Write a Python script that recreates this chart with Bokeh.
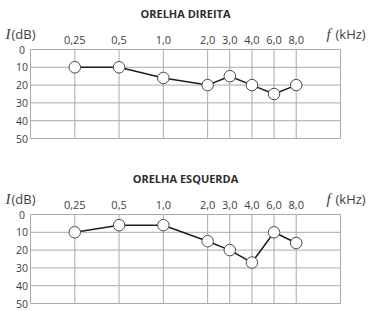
import math
from bokeh.plotting import figure
from bokeh.models import Range1d
from bokeh.core.properties import value
from bokeh.layouts import column
from bokeh.embed import file_html
from bokeh.resources import INLINE

# ---- data ----
freq_labels = ["0,25", "0,5", "1,0", "2,0", "3,0", "4,0", "6,0", "8,0"]
freqs_khz = [0.25, 0.5, 1.0, 2.0, 3.0, 4.0, 6.0, 8.0]
right_ear_db = [10, 10, 16, 20, 15, 20, 25, 20]
left_ear_db = [10, 6, 6, 15, 20, 27, 10, 16]
db_ticks = [0, 10, 20, 30, 40, 50]
db_labels = ["0", "10", "20", "30", "40", "50"]
titles = ["ORELHA DIREITA", "ORELHA ESQUERDA"]


def audiogram_x(f):
    # audiogram scale: octaves above 0.25 kHz, 3 and 6 kHz on half-octave marks
    return round(2 * math.log2(f / 0.25)) / 2


xs = [audiogram_x(f) for f in freqs_khz]
X_MIN, X_MAX = xs[0] - 1, xs[-1] + 1          # one octave of margin each side
DB_MIN, DB_MAX = db_ticks[0], db_ticks[-1]

# ---- layout (pixels) ----
W = 372
GRID_LEFT, GRID_RIGHT = 30, 340
GRID_H = 89
FONT = "Open Sans"
TXT = "#404040"
GRID = "#ababab"


def make(title, values, height, grid_top):
    ux = (X_MAX - X_MIN) / (GRID_RIGHT - GRID_LEFT)
    uy = (DB_MAX - DB_MIN) / GRID_H
    x_range = Range1d(X_MIN - GRID_LEFT * ux, X_MAX + (W - GRID_RIGHT) * ux)
    y_range = Range1d(DB_MAX + (height - grid_top - GRID_H) * uy, DB_MIN - grid_top * uy)
    p = figure(width=W, height=height, output_backend="svg", toolbar_location=None,
               x_range=x_range, y_range=y_range, x_axis_type=None, y_axis_type=None,
               min_border=0)
    p.grid.visible = False
    p.outline_line_color = None
    p.background_fill_color = "white"

    # grid (with frame border)
    vx = [X_MIN] + xs + [X_MAX]
    p.segment(x0=vx, y0=[DB_MIN] * len(vx), x1=vx, y1=[DB_MAX] * len(vx),
              line_color=GRID, line_width=1)
    p.segment(x0=[X_MIN] * len(db_ticks), y0=db_ticks, x1=[X_MAX] * len(db_ticks),
              y1=db_ticks, line_color=GRID, line_width=1)

    # tick labels
    p.text(x=xs, y=[DB_MIN] * len(xs), text=freq_labels, y_offset=-10,
           text_align="center", text_baseline="middle", text_font=value(FONT),
           text_font_size="11px", text_color=TXT)
    p.text(x=[X_MIN] * len(db_ticks), y=db_ticks, text=db_labels, x_offset=-8.5,
           text_align="center", text_baseline="middle", text_font=value(FONT),
           text_font_size="10.5px", text_color=TXT)

    # axis names
    p.text(x=[X_MIN], y=[DB_MIN], text=["I"], x_offset=-25, y_offset=-16,
           text_align="left", text_baseline="middle",
           text_font=value("Liberation Serif"), text_font_style="italic",
           text_font_size="15px", text_color=TXT)
    p.text(x=[X_MIN], y=[DB_MIN], text=["(dB)"], x_offset=-19, y_offset=-16,
           text_align="left", text_baseline="middle", text_font=value(FONT),
           text_font_size="13px", text_color=TXT)
    p.text(x=[X_MAX], y=[DB_MIN], text=["f"], x_offset=-14, y_offset=-16,
           text_align="left", text_baseline="middle",
           text_font=value("Liberation Serif"), text_font_style="italic",
           text_font_size="15px", text_color=TXT)
    p.text(x=[X_MAX], y=[DB_MIN], text=["(kHz)"], x_offset=-5, y_offset=-16,
           text_align="left", text_baseline="middle", text_font=value(FONT),
           text_font_size="13px", text_color=TXT)

    # title
    p.text(x=[(X_MIN + X_MAX) / 2], y=[DB_MIN], text=[title], y_offset=-36,
           text_align="center", text_baseline="middle", text_font=value(FONT),
           text_font_style="bold", text_font_size="11px", text_color="#2e2e2e")

    # data
    p.line(xs, values, line_color="#1e1e1e", line_width=1.5)
    p.scatter(xs, values, size=11.5, fill_color="white", line_color="#4a4a4a",
              line_width=1)
    return p


p1 = make(titles[0], right_ear_db, 155, 49)
p2 = make(titles[1], left_ear_db, 156, 59)
layout = column(p1, p2, spacing=0)

open("out.html", "w").write(file_html(layout, INLINE))
